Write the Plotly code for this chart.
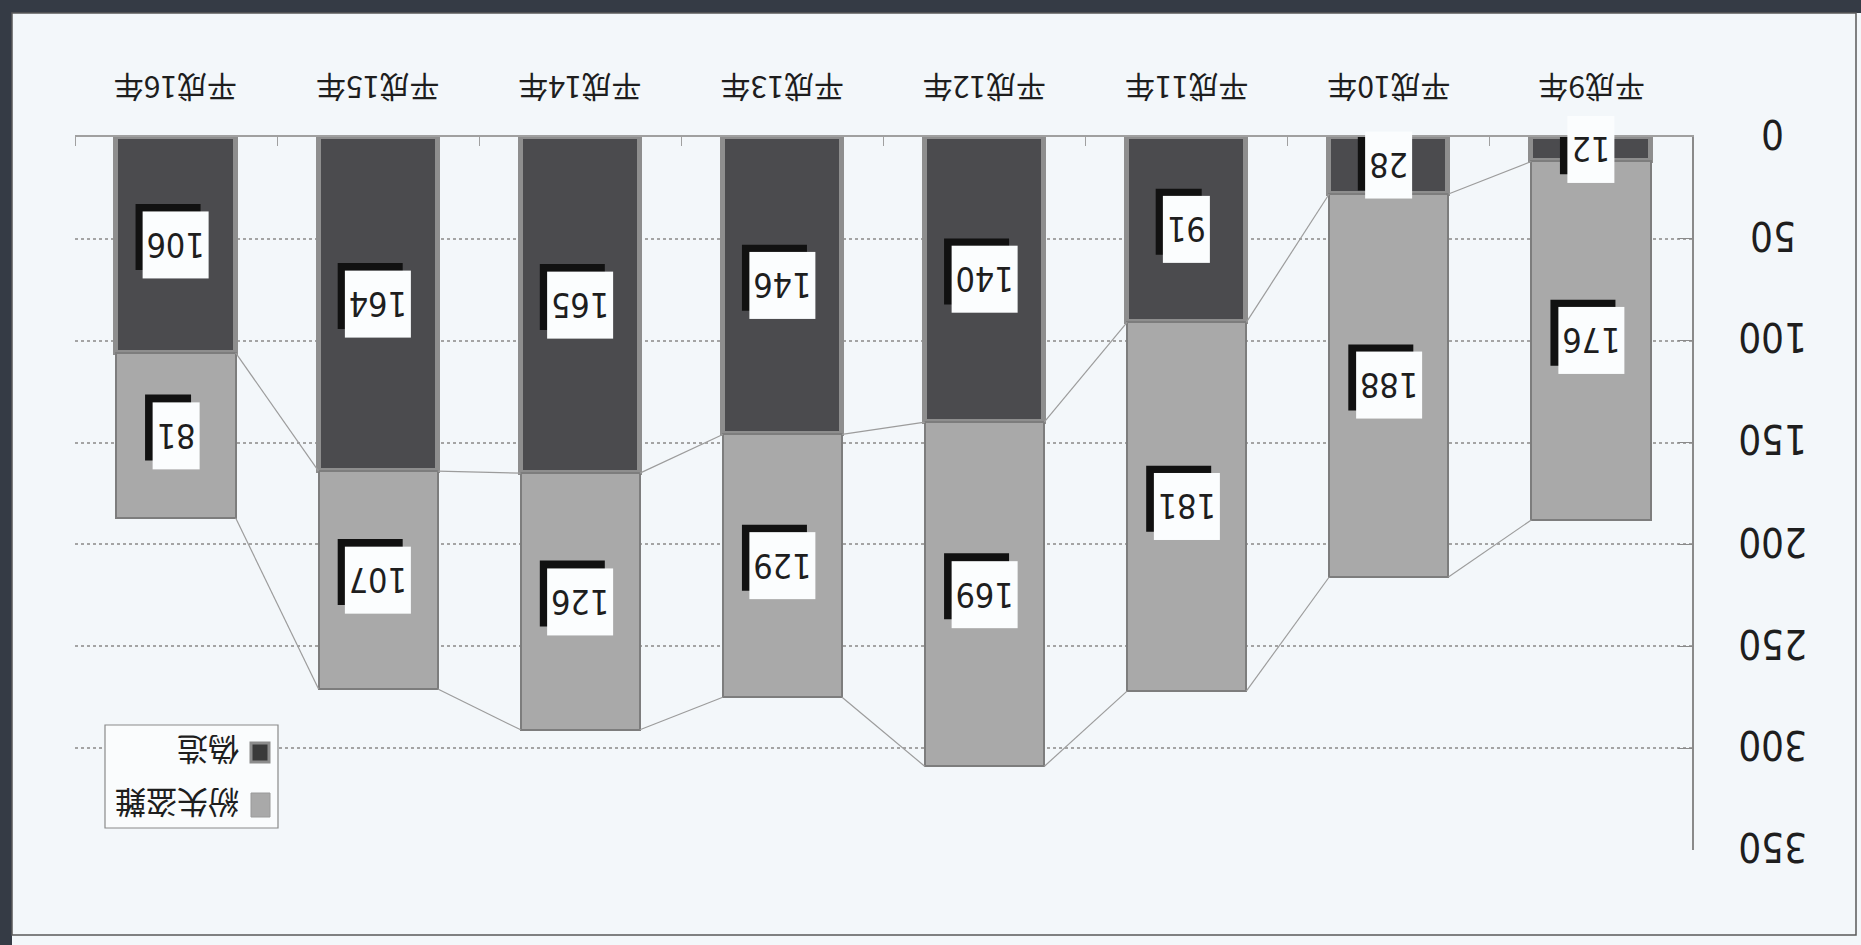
import plotly.graph_objects as go

# ---------------- data ----------------
categories = ["平成9年", "平成10年", "平成11年", "平成12年",
              "平成13年", "平成14年", "平成15年", "平成16年"]
forgery = [12, 28, 91, 140, 146, 165, 164, 106]          # 偽造 (dark)
lost_stolen = [176, 188, 181, 169, 129, 126, 107, 81]    # 紛失盗難 (light)
y_ticks = [0, 50, 100, 150, 200, 250, 300, 350]
series_names = ["偽造", "紛失盗難"]

# ---------------- layout geometry ----------------
W, H = 1861, 945
L, R, T, B = 75, 169, 137, 95
PW, PH = W - L - R, H - T - B


def px2x(px):
    return (px - L) / PW


def py2y(py):
    return (H - B - py) / PH


BAR_W = 0.59
NUM_FONT = ("Liberation Sans Narrow, DejaVu Sans Condensed, Arial Narrow, "
            "Liberation Sans, Arial, sans-serif")
CJK_FONT = "Liberation Sans Narrow, Noto Sans CJK JP, sans-serif"
DARK = "#4b4b4e"
LIGHT = "#a9a9a9"
BG = "#f3f7fa"
TXT = "#1e1e1e"

xs = list(range(len(categories)))
totals = [a + b for a, b in zip(forgery, lost_stolen)]

fig = go.Figure()

fig.add_bar(x=xs, y=forgery, width=BAR_W, name=series_names[0], showlegend=False,
            marker=dict(color=DARK, line=dict(color="#8e8e8e", width=5)))
fig.add_bar(x=xs, y=lost_stolen, width=BAR_W, name=series_names[1], showlegend=False,
            marker=dict(color=LIGHT, line=dict(color="#7d7d7d", width=2)))

# series lines (Excel style) connecting segment tops between neighbouring bars
for tops in (forgery, totals):
    lx, ly = [], []
    for i in range(len(xs) - 1):
        lx += [xs[i] + BAR_W / 2, xs[i + 1] - BAR_W / 2, None]
        ly += [tops[i], tops[i + 1], None]
    fig.add_scatter(x=lx, y=ly, mode="lines", showlegend=False, hoverinfo="skip",
                    line=dict(color="#9c9c9c", width=1.2))

annotations = []
shapes = []

# data labels: white boxes with a dark drop shadow (shadow drawn as pixel-sized shape)
BOX_H = 62
PAD = 2
SH = 8
for i in xs:
    for val, center in ((forgery[i], forgery[i] / 2),
                        (lost_stolen[i], forgery[i] + lost_stolen[i] / 2)):
        txt = str(val)
        bw = 19 * len(txt) + 4
        tw, th = bw + 2 * PAD, BOX_H + 2 * PAD
        shapes.append(dict(type="rect", xref="x", yref="y",
                           xsizemode="pixel", ysizemode="pixel",
                           xanchor=xs[i], yanchor=center,
                           x0=-tw / 2 - SH, x1=tw / 2 - SH,
                           y0=-th / 2 + SH, y1=th / 2 + SH,
                           fillcolor="#111111", line=dict(width=0)))
        annotations.append(dict(
            x=xs[i], y=center, xref="x", yref="y", text=txt, showarrow=False,
            xanchor="center", yanchor="middle",
            textangle=180, width=bw, height=BOX_H, bgcolor="#fbfdfe", borderpad=PAD,
            font=dict(family=NUM_FONT, size=34, color=TXT)))

# category labels (upside down, centred over each bar)
for i, c in enumerate(categories):
    annotations.append(dict(x=xs[i], y=py2y(89), xref="x", yref="paper", text=c,
                            showarrow=False, textangle=180, xanchor="center", yanchor="middle",
                            font=dict(family=CJK_FONT, size=30, color=TXT)))

# value-axis labels (upside down, right of the axis)
for v in y_ticks:
    annotations.append(dict(x=px2x(1773), y=v, xref="paper", yref="y", text=str(v),
                            showarrow=False, textangle=180, xanchor="center", yanchor="middle",
                            yshift=3,
                            font=dict(family=NUM_FONT, size=40, color=TXT)))

# legend drawn by hand (upside down as in the scan)
shapes += [
    dict(type="rect", xref="paper", yref="paper", x0=px2x(105), x1=px2x(278),
         y0=py2y(828), y1=py2y(725), line=dict(color="#8a8a8a", width=1.2), fillcolor="#fafcfd"),
    dict(type="rect", xref="paper", yref="paper", x0=px2x(251), x1=px2x(269),
         y0=py2y(762), y1=py2y(743), line=dict(color="#8c8c8c", width=3), fillcolor="#3a3a3a"),
    dict(type="rect", xref="paper", yref="paper", x0=px2x(251), x1=px2x(270),
         y0=py2y(817), y1=py2y(793), line=dict(color="#9a9a9a", width=1), fillcolor=LIGHT),
    # scan frame
    dict(type="rect", xref="paper", yref="paper", x0=px2x(0), x1=px2x(W),
         y0=py2y(13), y1=py2y(0), line=dict(width=0), fillcolor="#353b45"),
    dict(type="rect", xref="paper", yref="paper", x0=px2x(0), x1=px2x(12),
         y0=py2y(H), y1=py2y(0), line=dict(width=0), fillcolor="#353b45"),
    dict(type="rect", xref="paper", yref="paper", x0=px2x(12), x1=px2x(1856),
         y0=py2y(935), y1=py2y(13), line=dict(color="#5a5a5a", width=1.5)),
]
annotations.append(dict(x=px2x(208), y=py2y(752), xref="paper", yref="paper",
                        text=series_names[0], showarrow=False, textangle=180,
                        xanchor="center", yanchor="middle",
                        font=dict(family="Noto Sans CJK JP", size=31, color=TXT)))
annotations.append(dict(x=px2x(177), y=py2y(805), xref="paper", yref="paper",
                        text=series_names[1], showarrow=False, textangle=180,
                        xanchor="center", yanchor="middle",
                        font=dict(family="Noto Sans CJK JP", size=31, color=TXT)))

fig.update_layout(
    width=W, height=H, margin=dict(l=L, r=R, t=T, b=B),
    barmode="stack", bargap=0,
    paper_bgcolor=BG, plot_bgcolor=BG,
    annotations=annotations, shapes=shapes,
    xaxis=dict(side="top", range=[len(xs) - 0.5, -0.5],
               tickmode="array", tickvals=xs, ticktext=categories, showticklabels=False,
               ticks="", showgrid=False, zeroline=False,
               showline=True, linecolor="#a0a0a0", linewidth=1.5,
               minor=dict(tickmode="array", tickvals=[v + 0.5 for v in xs[:-1]] + [len(xs) - 0.5],
                          ticks="inside", ticklen=9, tickcolor="#a0a0a0", tickwidth=1.2)),
    yaxis=dict(side="right", range=[y_ticks[-1], y_ticks[0]],
               tickmode="array", tickvals=y_ticks, showticklabels=False,
               ticks="inside", ticklen=14, tickcolor="#8a8a8a",
               showline=True, linecolor="#8a8a8a", linewidth=1.5,
               showgrid=True, gridcolor="#a4a4a4", griddash="dot", gridwidth=1.5,
               zeroline=False),
)

fig.write_html("out.html", config={"displayModeBar": False},
               post_script="document.body.style.margin='0';document.body.style.overflow='hidden';")
